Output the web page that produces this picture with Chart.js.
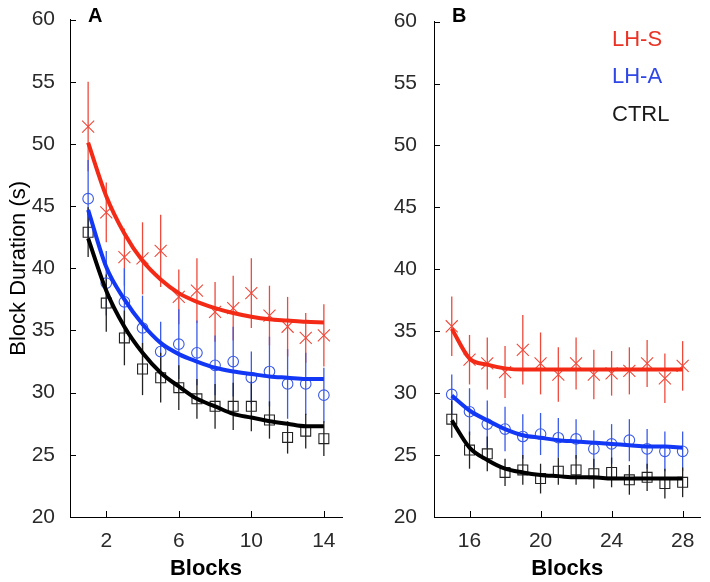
<!DOCTYPE html>
<html>
<head>
<meta charset="utf-8">
<script src="https://cdn.jsdelivr.net/npm/chart.js@4.4.0/dist/chart.umd.min.js"></script>
<style>
  body { margin: 0; background: #fff; width: 710px; height: 582px; position: relative; overflow: hidden;
         font-family: "Liberation Sans", Arial, sans-serif; }
  canvas { position: absolute; top: 0; }
  .lbl { position: absolute; line-height: 1; white-space: nowrap; }
</style>
</head>
<body>
<canvas id="panelA" width="355" height="582" style="left:0"></canvas>
<canvas id="panelB" width="350" height="582" style="left:360px"></canvas>
<div class="lbl" style="left:88px;top:5px;font-size:20px;font-weight:bold">A</div>
<div class="lbl" style="left:452px;top:5px;font-size:20px;font-weight:bold">B</div>
<div class="lbl" style="left:612px;top:28px;font-size:22px;color:#ea3325">LH-S</div>
<div class="lbl" style="left:612px;top:65px;font-size:22px;color:#2f47e6">LH-A</div>
<div class="lbl" style="left:612px;top:103px;font-size:22px;color:#1a1a1a">CTRL</div>
<script>
// tick labels
const yTicks = [20, 25, 30, 35, 40, 45, 50, 55, 60];
const xTicksA = [2, 6, 10, 14];
const xTicksB = [16, 20, 24, 28];

// panel A: blocks 1-14
const blocksA = [1, 2, 3, 4, 5, 6, 7, 8, 9, 10, 11, 12, 13, 14];
const lhsA    = [51.4, 44.5, 40.9, 40.8, 41.4, 37.7, 38.2, 36.5, 36.8, 38.0, 36.2, 35.3, 34.4, 34.6];
const lhsAErr = [3.6, 2.4, 2.3, 2.9, 2.9, 2.2, 2.6, 2.4, 2.6, 2.8, 2.4, 2.4, 2.0, 2.5];
const lhsAFit = [50.1, 45.8, 42.8, 40.6, 39.1, 38.0, 37.3, 36.8, 36.4, 36.1, 35.9, 35.8, 35.7, 35.65];
const lhaA    = [45.6, 38.8, 37.3, 35.2, 33.3, 33.9, 33.2, 32.2, 32.5, 31.2, 31.7, 30.7, 30.7, 29.8];
const lhaAErr = [3.1, 2.6, 2.7, 2.6, 2.4, 2.8, 2.6, 2.4, 2.8, 2.1, 2.8, 2.8, 2.5, 2.2];
const lhaAFit = [44.7, 40.1, 37.5, 35.5, 34.0, 33.1, 32.5, 32.0, 31.7, 31.5, 31.3, 31.2, 31.1, 31.1];
const ctrlA    = [42.9, 37.2, 34.4, 31.9, 31.2, 30.4, 29.5, 28.9, 28.9, 28.9, 27.8, 26.4, 26.9, 26.3];
const ctrlAErr = [2.0, 2.3, 2.2, 2.1, 2.0, 1.8, 1.6, 1.8, 1.9, 2.0, 1.5, 1.3, 1.4, 1.4];
const ctrlAFit = [42.4, 38.2, 35.3, 33.2, 31.6, 30.5, 29.5, 28.9, 28.3, 28.0, 27.7, 27.5, 27.3, 27.3];

// panel B: blocks 15-28
const blocksB = [15, 16, 17, 18, 19, 20, 21, 22, 23, 24, 25, 26, 27, 28];
const lhsB    = [35.4, 32.7, 32.4, 31.7, 33.5, 32.4, 31.5, 32.4, 31.5, 31.6, 31.8, 32.4, 31.2, 32.2];
const lhsBErr = [2.4, 2.0, 2.1, 2.1, 2.8, 2.5, 2.2, 2.1, 2.0, 1.8, 1.9, 1.9, 2.0, 2.0];
const lhsBFit = [35.2, 32.8, 32.3, 32.0, 31.9, 31.9, 31.9, 31.9, 31.9, 31.9, 31.9, 31.9, 31.9, 31.9];
const lhaB    = [29.9, 28.5, 27.5, 27.1, 26.5, 26.7, 26.4, 26.3, 25.5, 25.9, 26.2, 25.5, 25.3, 25.3];
const lhaBErr = [1.6, 1.9, 1.9, 1.8, 1.8, 1.7, 1.6, 1.6, 1.5, 1.6, 1.7, 1.6, 1.6, 1.6];
const lhaBFit = [29.8, 28.6, 27.8, 27.1, 26.6, 26.4, 26.2, 26.1, 26.0, 25.9, 25.8, 25.7, 25.7, 25.6];
const ctrlB    = [27.9, 25.4, 25.1, 23.6, 23.8, 23.1, 23.7, 23.8, 23.5, 23.6, 23.0, 23.2, 22.7, 22.8];
const ctrlBErr = [1.5, 1.5, 1.4, 1.1, 1.2, 1.2, 1.1, 1.2, 1.2, 1.2, 1.2, 1.1, 1.2, 1.2];
const ctrlBFit = [27.8, 25.6, 24.6, 23.9, 23.6, 23.4, 23.3, 23.2, 23.2, 23.1, 23.1, 23.1, 23.1, 23.1];

const RED = '#f32a16', RED_BAR = '#ee4a3c';
const BLUE = '#1238f5', BLUE_BAR = '#3a5ae8';
const BLACK = '#000000', BLACK_BAR = '#222222';

const toPts = (xs, ys) => xs.map((x, i) => ({ x: x, y: ys[i] }));

// vertical error bars, drawn under the markers
const errorBars = {
  id: 'errorBars',
  beforeDatasetsDraw(chart) {
    const ctx = chart.ctx, xs = chart.scales.x, ys = chart.scales.y;
    ctx.save();
    chart.data.datasets.forEach(ds => {
      if (!ds.errs) return;
      ctx.strokeStyle = ds.barColor;
      ctx.lineWidth = 1.3;
      ds.data.forEach((p, i) => {
        const px = xs.getPixelForValue(p.x);
        ctx.beginPath();
        ctx.moveTo(px, ys.getPixelForValue(p.y - ds.errs[i]));
        ctx.lineTo(px, ys.getPixelForValue(p.y + ds.errs[i]));
        ctx.stroke();
      });
    });
    ctx.restore();
  }
};

// matlab style ticks pointing into the plot
const innerTicks = {
  id: 'innerTicks',
  afterDraw(chart) {
    const ctx = chart.ctx, a = chart.chartArea;
    ctx.save();
    ctx.strokeStyle = '#000';
    ctx.lineWidth = 1;
    ctx.beginPath();
    chart.scales.x.ticks.forEach(t => {
      const px = Math.round(chart.scales.x.getPixelForValue(t.value)) + 0.5;
      ctx.moveTo(px, a.bottom);
      ctx.lineTo(px, a.bottom - 6);
    });
    chart.scales.y.ticks.forEach(t => {
      const py = Math.round(chart.scales.y.getPixelForValue(t.value)) + 0.5;
      ctx.moveTo(a.left, py);
      ctx.lineTo(a.left + 6, py);
    });
    ctx.stroke();
    ctx.restore();
  }
};

function groupSets(blocks, pts, errs, fit, color, barColor, style, radius) {
  return [
    {
      data: toPts(blocks, fit), showLine: true, borderColor: color, borderWidth: 4,
      pointRadius: 0, cubicInterpolationMode: 'monotone', order: 0
    },
    {
      data: toPts(blocks, pts), errs: errs, barColor: barColor, showLine: false,
      pointStyle: style, pointRadius: radius, borderWidth: 1.1, borderColor: barColor,
      backgroundColor: 'rgba(0,0,0,0)', order: 1
    }
  ];
}

function makePanel(id, datasets, xMin, xMax, xTicks, yWidth, yPad, padRight, yTitle) {
  return new Chart(document.getElementById(id), {
    type: 'scatter',
    data: { datasets: datasets },
    options: {
      responsive: false,
      animation: false,
      layout: { padding: { top: 13, right: padRight, left: 0, bottom: 0 } },
      plugins: { legend: { display: false }, tooltip: { enabled: false } },
      scales: {
        x: {
          type: 'linear', min: xMin, max: xMax,
          afterBuildTicks: s => { s.ticks = xTicks.map(v => ({ value: v })); },
          afterFit: s => { s.height = 65; },
          grid: { display: false },
          border: { display: true, color: '#000', width: 1 },
          ticks: { color: '#2a2a2a', padding: 4, maxRotation: 0, autoSkip: false,
                   font: { family: 'Liberation Sans', size: 21 } },
          title: { display: true, text: 'Blocks', color: '#000', padding: { top: 0, bottom: 0 },
                   font: { family: 'Liberation Sans', size: 22, weight: 'bold' } }
        },
        y: {
          type: 'linear', min: 20, max: 60,
          afterBuildTicks: s => { s.ticks = yTicks.map(v => ({ value: v })); },
          afterFit: s => { s.width = yWidth; },
          grid: { display: false },
          border: { display: true, color: '#000', width: 1 },
          ticks: { color: '#2a2a2a', padding: yPad, font: { family: 'Liberation Sans', size: 21 } },
          title: { display: yTitle, text: 'Block Duration (s)', color: '#000', padding: { top: 6, bottom: 0 },
                   font: { family: 'Liberation Sans', size: 22 } }
        }
      }
    },
    plugins: [errorBars, innerTicks]
  });
}

makePanel('panelA', [
  ...groupSets(blocksA, lhsA, lhsAErr, lhsAFit, RED, RED_BAR, 'crossRot', 8.5),
  ...groupSets(blocksA, lhaA, lhaAErr, lhaAFit, BLUE, BLUE_BAR, 'circle', 5.3),
  ...groupSets(blocksA, ctrlA, ctrlAErr, ctrlAFit, BLACK, BLACK_BAR, 'rect', 7)
], 0, 15, xTicksA, 70, 7, 13, true);

makePanel('panelB', [
  ...groupSets(blocksB, lhsB, lhsBErr, lhsBFit, RED, RED_BAR, 'crossRot', 8.5),
  ...groupSets(blocksB, lhaB, lhaBErr, lhaBFit, BLUE, BLUE_BAR, 'circle', 5.3),
  ...groupSets(blocksB, ctrlB, ctrlBErr, ctrlBFit, BLACK, BLACK_BAR, 'rect', 7)
], 14, 29, xTicksB, 74, 9, 7, false);
</script>
</body>
</html>
